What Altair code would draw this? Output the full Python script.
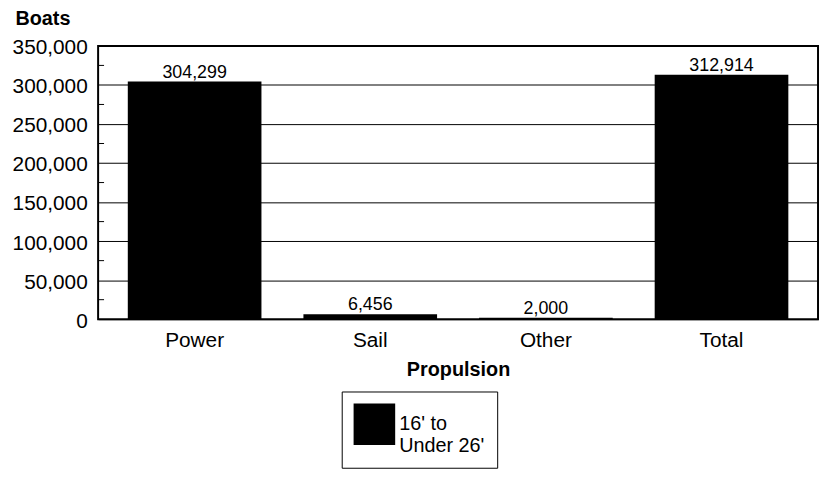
import altair as alt
import pandas as pd

categories = ["Power", "Sail", "Other", "Total"]
values = [304299, 6456, 2000, 312914]
series = ["16' to\nUnder 26'"] * 4
minor_ticks = [25000, 75000, 125000, 175000, 225000, 275000, 325000]
major_ticks = [0, 50000, 100000, 150000, 200000, 250000, 300000, 350000]

df = pd.DataFrame({"Propulsion": categories, "Boats": values, "series": series})
minor_df = pd.DataFrame({"v": minor_ticks})

FONT = "Liberation Sans"

x_axis = alt.Axis(
    title="Propulsion",
    titleFont=FONT, titleFontSize=20, titleFontWeight="bold", titleColor="black",
    titleY=57, titleBaseline="alphabetic",
    labelFont=FONT, labelFontSize=21, labelColor="black", labelAngle=0,
    labelBaseline="alphabetic", labelPadding=28,
    ticks=False, tickSize=0, domain=False, grid=False,
)
y_axis = alt.Axis(
    title="Boats",
    titleFont=FONT, titleFontSize=20, titleFontWeight="bold", titleColor="black",
    titleAngle=0, titleAlign="left", titleBaseline="alphabetic",
    titleX=-84, titleY=-22,
    values=major_ticks, format=",.0f",
    labelFont=FONT, labelFontSize=21, labelColor="black",
    labelPadding=11, labelOffset=2,
    ticks=False, tickSize=0, domain=False,
    grid=True, gridColor="black", gridOpacity=1, gridWidth=1,
)
x_scale = alt.Scale(paddingInner=0.239, paddingOuter=0.169)
y_scale = alt.Scale(domain=[0, 350000], nice=False, zero=True)

x_enc = alt.X("Propulsion:N", sort=None, scale=x_scale, axis=x_axis, title="Propulsion")
y_enc = alt.Y("Boats:Q", scale=y_scale, axis=y_axis, title="Boats")

bars = alt.Chart(df).mark_bar(color="black").encode(
    x=x_enc,
    y=y_enc,
    color=alt.Color(
        "series:N",
        scale=alt.Scale(range=["black"]),
        legend=alt.Legend(
            title=None, orient="none", legendX=246, legendY=349,
            symbolType="square", symbolSize=1764, symbolFillColor="black",
            symbolStrokeColor="black", symbolStrokeWidth=0,
            labelFont=FONT, labelFontSize=20, labelColor="black",
            labelLimit=300, labelOffset=4, labelExpr="split(datum.label, '\\n')",
            strokeColor="black", padding=12, fillColor="white",
        ),
    ),
)

labels = alt.Chart(df).mark_text(
    font=FONT, fontSize=18, color="black", baseline="alphabetic", dy=-4
).encode(
    x=x_enc,
    y=y_enc,
    text=alt.Text("Boats:Q", format=",.0f"),
)

minor = alt.Chart(minor_df).mark_rule(color="black", strokeWidth=1).encode(
    y=alt.Y("v:Q", scale=y_scale, axis=y_axis, title="Boats"),
    x=alt.value(0),
    x2=alt.value(6),
)

chart = (
    alt.layer(bars, labels, minor)
    .properties(
        width=727,
        height=276,
        autosize=alt.AutoSizeParams(type="none"),
        padding={"left": 91, "top": 36, "right": 2, "bottom": 149},
        background="white",
    )
    .configure_view(stroke="black", strokeWidth=2)
)

chart.save("out.html", embed_options={"renderer": "svg", "actions": False})
